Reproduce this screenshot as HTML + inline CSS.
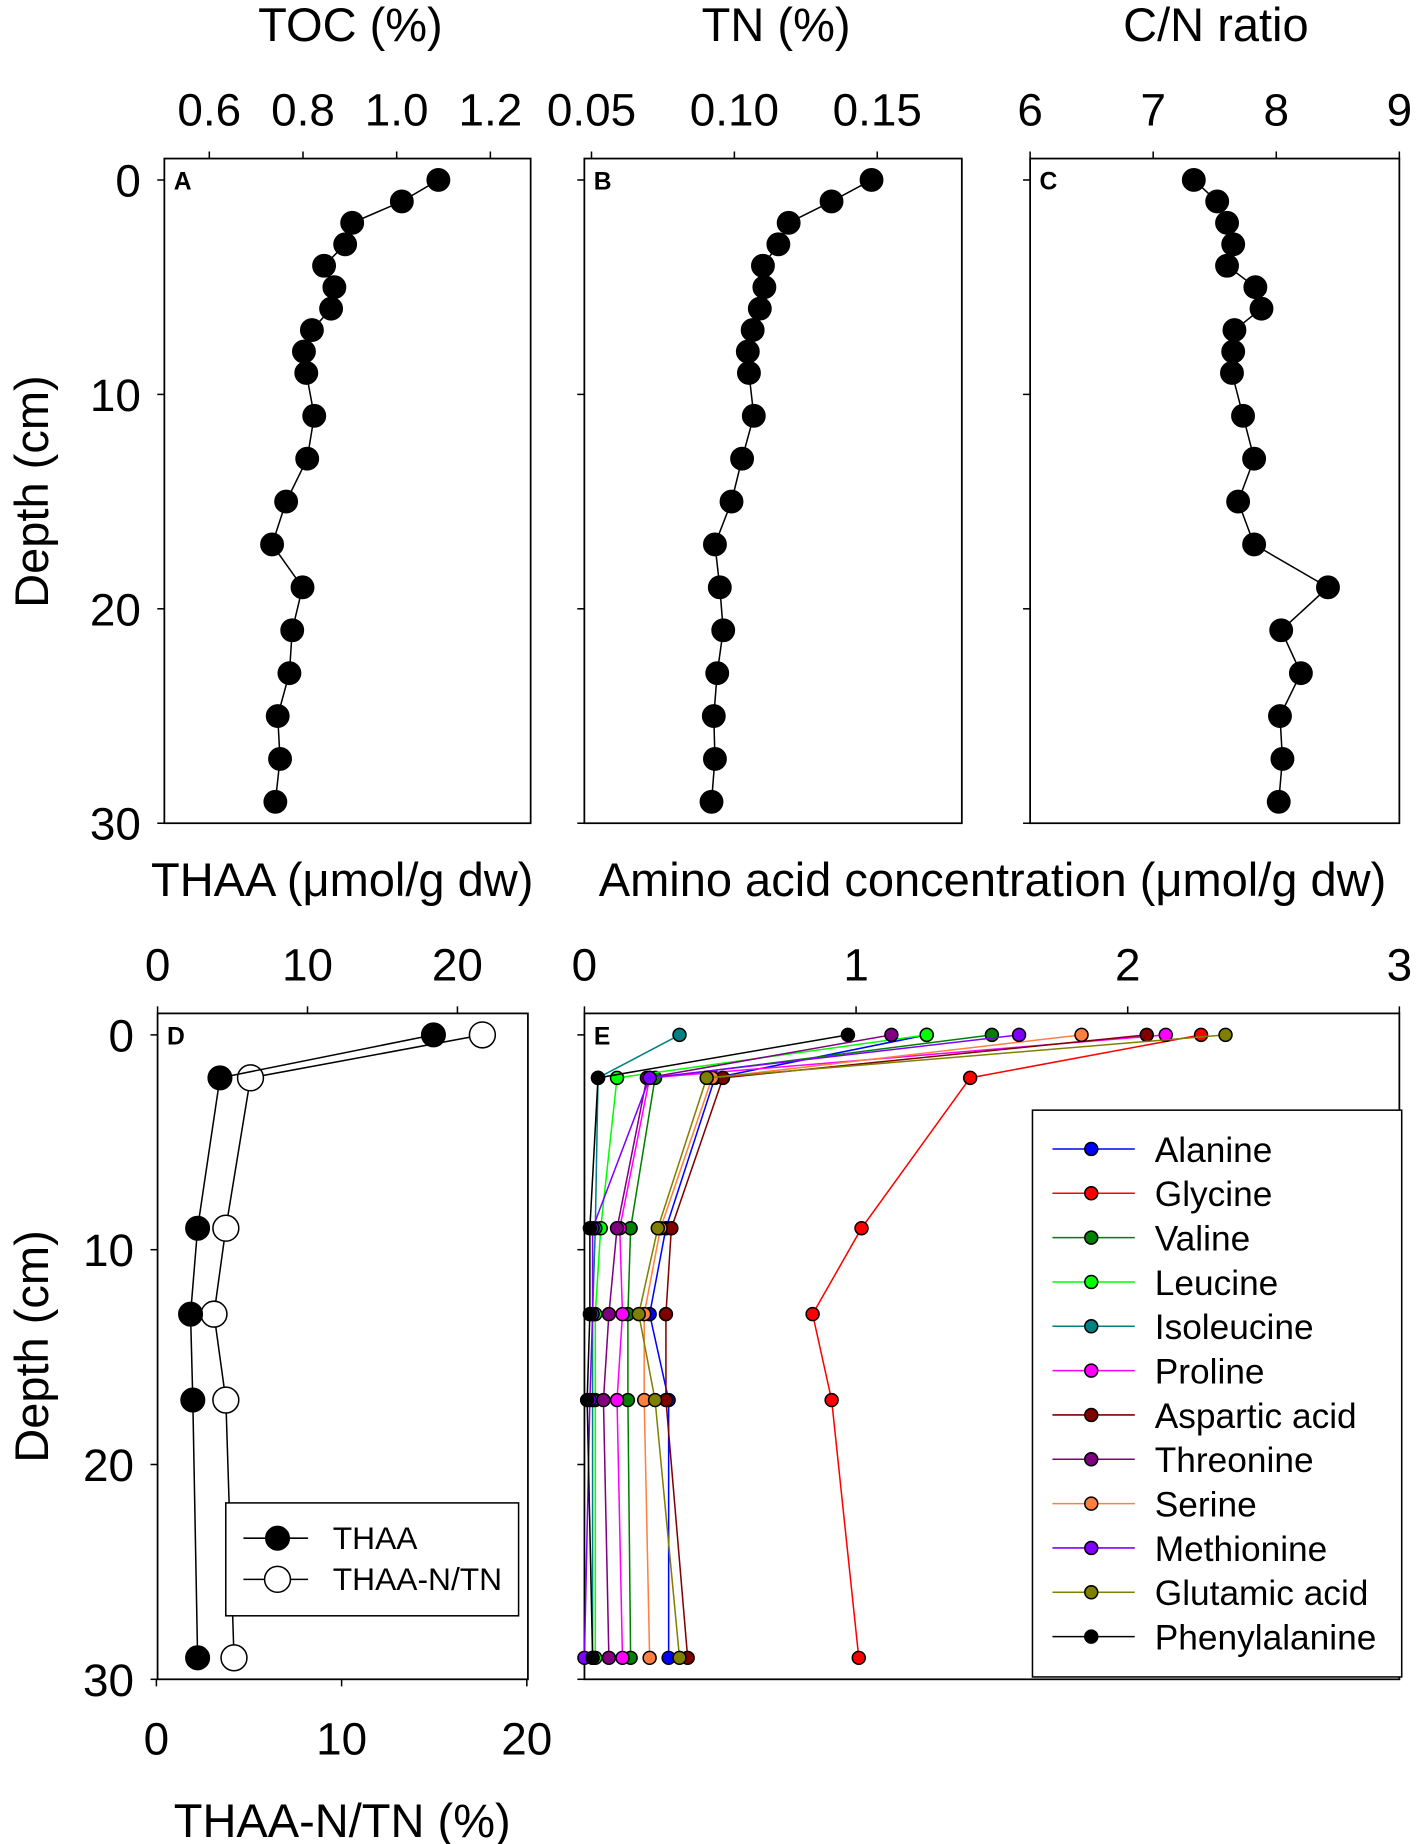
<!DOCTYPE html>
<html><head><meta charset="utf-8"><style>
html,body{margin:0;padding:0;background:#fff}
svg{display:block;font-family:"Liberation Sans",Arial,sans-serif}
</style></head><body>
<svg id="fig" width="1417" height="1844" viewBox="0 0 1205 1568" xmlns="http://www.w3.org/2000/svg"></svg>
<script>
// ---- data ----
const depthsTop = [0,1,2,3,4,5,6,7,8,9,11,13,15,17,19,21,23,25,27,29];
const tocValues = [1.089,1.011,0.905,0.890,0.845,0.867,0.860,0.819,0.802,0.807,0.824,0.809,0.764,0.734,0.799,0.777,0.771,0.746,0.751,0.741];
const tnValues = [0.148,0.134,0.119,0.1154,0.110,0.1105,0.1089,0.1064,0.1047,0.1051,0.1068,0.1027,0.099,0.0932,0.0949,0.0961,0.0940,0.0928,0.0932,0.092];
const cnValues = [7.33,7.52,7.60,7.65,7.60,7.83,7.88,7.66,7.65,7.64,7.73,7.82,7.69,7.82,8.42,8.04,8.20,8.03,8.05,8.02];
const tocTicks = [0.6,0.8,1.0,1.2];
const tnTicks = [0.05,0.10,0.15];
const cnTicks = [6,7,8,9];
const depthTicks = [0,10,20,30];
const depthsBottom = [0,2,9,13,17,29];
const thaaValues = [18.4,4.16,2.67,2.2,2.35,2.67];
const thaaNValues = [17.6,5.08,3.75,3.11,3.75,4.19];
const thaaTicks = [0,10,20];
const thaaNTicks = [0,10,20];
const aaTicks = [0,1,2,3];
const aaNames = ["Alanine","Glycine","Valine","Leucine","Isoleucine","Proline","Aspartic acid","Threonine","Serine","Methionine","Glutamic acid","Phenylalanine"];
const aaColors = ["#0000ff","#ff0000","#008000","#00ff00","#008080","#ff00ff","#800000","#800080","#ff8040","#8000ff","#808000","#000000"];
const alanine = [1.26,0.48,0.30,0.24,0.31,0.31];
const glycine = [2.27,1.42,1.02,0.84,0.91,1.01];
const valine = [1.50,0.26,0.17,0.16,0.16,0.17];
const leucine = [1.26,0.12,0.06,0.04,0.04,0.04];
const isoleucine = [0.35,0.05,0.04,0.03,0.03,0.03];
const proline = [2.14,0.24,0.13,0.14,0.12,0.14];
const asparticAcid = [2.07,0.51,0.32,0.30,0.30,0.38];
const threonine = [1.13,0.23,0.12,0.09,0.07,0.09];
const serine = [1.83,0.47,0.28,0.22,0.22,0.24];
const methionine = [1.60,0.24,0.03,0.03,0.02,0.0];
const glutamicAcid = [2.36,0.45,0.27,0.20,0.26,0.35];
const phenylalanine = [0.97,0.05,0.02,0.02,0.01,0.03];
const aaSeries = [alanine,glycine,valine,leucine,isoleucine,proline,asparticAcid,threonine,serine,methionine,glutamicAcid,phenylalanine];

const NS="http://www.w3.org/2000/svg";
const svg=document.getElementById('fig');
function mk(tag,attrs,parent){const e=document.createElementNS(NS,tag);for(const k in attrs)e.setAttribute(k,attrs[k]);(parent||svg).appendChild(e);return e;}
function txt(s,x,y,size,anchor,parent,extra){const t=mk('text',Object.assign({x:x,y:y,'font-size':size,'text-anchor':anchor||'middle',fill:'#000'},extra||{}),parent);t.textContent=s;return t;}
function lin(a,b,c,d){return v=>c+(v-a)*(d-c)/(b-a);}

function panel(o){
  const g=mk('g',{});
  
  
  const X=lin(o.x0v,o.x1v,o.x0p,o.x1p);
  const Y=lin(0,30,o.y0,o.y30);
  const top=Y(-1), bot=Y(30);
  const L=X(o.xmin), R=X(o.xmax);
  const box=mk('rect',{x:L,y:top,width:R-L,height:bot-top,fill:'none',stroke:'#000','stroke-width':1.5},g);
  
  
  depthTicks.forEach(d=>{mk('line',{x1:L-6,x2:L,y1:Y(d),y2:Y(d),stroke:'#000','stroke-width':1.3},g);
    if(o.depthLabels){const t=txt(String(d),L-20,Y(d)+14,39,'end',g);
      
      }});
  o.topTicks.forEach(v=>{mk('line',{x1:X(v),x2:X(v),y1:top,y2:top-6,stroke:'#000','stroke-width':1.3},g);
    const t=txt(o.fmt(v),X(v),top-28,39,'middle',g);
    
    });
  const lt=txt(o.letter,L+8,Y(0)+8,21,'start',g,{'font-weight':'bold'});
  
  
  return {g,X,Y,top,bot,L,R};
}
function series(p,X,Y,depths,vals,r,fill,stroke,sw,name){
  const g=mk('g',{},p.g);
  
  
  mk('polyline',{points:depths.map((d,i)=>X(vals[i])+','+Y(d)).join(' '),fill:'none',stroke:stroke,'stroke-width':sw},g);
  depths.forEach((d,i)=>{const c=mk('circle',{cx:X(vals[i]),cy:Y(d),r:r,fill:fill,stroke:'#000','stroke-width':1.3},g);
    
    });
}

const pA=panel({name:'panel-a-toc',x0v:0.6,x1v:1.2,x0p:178,x1p:417,xmin:0.504,xmax:1.286,y0:153,y30:700,topTicks:tocTicks,fmt:v=>v.toFixed(1),letter:'A',depthLabels:true});
series(pA,pA.X,pA.Y,depthsTop,tocValues,9.5,'#000','#000',1.3,'toc-series');
const pB=panel({name:'panel-b-tn',x0v:0.05,x1v:0.15,x0p:503,x1p:746,xmin:0.0475,xmax:0.1796,y0:153,y30:700,topTicks:tnTicks,fmt:v=>v.toFixed(2),letter:'B'});
series(pB,pB.X,pB.Y,depthsTop,tnValues,9.5,'#000','#000',1.3,'tn-series');
const pC=panel({name:'panel-c-cn',x0v:6,x1v:9,x0p:876,x1p:1190,xmin:6,xmax:9,y0:153,y30:700,topTicks:cnTicks,fmt:v=>String(v),letter:'C'});
series(pC,pC.X,pC.Y,depthsTop,cnValues,9.5,'#000','#000',1.3,'cn-series');

[['TOC (%)',298,'toc-axis-title'],['TN (%)',660,'tn-axis-title'],['C/N ratio',1034,'cn-axis-title']].forEach(a=>{
  const t=txt(a[0],a[1],35,40,'middle');
  
  });

const pD=panel({name:'panel-d-thaa',x0v:0,x1v:20,x0p:134,x1p:389,xmin:0,xmax:24.7,y0:880,y30:1428,topTicks:thaaTicks,fmt:v=>String(v),letter:'D',depthLabels:true});
const XN=lin(0,20,133,448);
thaaNTicks.forEach(v=>{mk('line',{x1:XN(v),x2:XN(v),y1:pD.bot,y2:pD.bot+6,stroke:'#000','stroke-width':1.3},pD.g);
  const t=txt(String(v),XN(v),pD.bot+64,39,'middle',pD.g);
  
  });
series(pD,XN,pD.Y,depthsBottom,thaaNValues,11,'#fff','#000',1.3,'thaa-n-tn-series');
series(pD,pD.X,pD.Y,depthsBottom,thaaValues,10,'#000','#000',1.3,'thaa-series');
const lgD=mk('g',{},pD.g);


mk('rect',{x:192,y:1278,width:249,height:96,fill:'#fff',stroke:'#000','stroke-width':1.3},lgD);
[['THAA','#000',10,1308],['THAA-N/TN','#fff',11,1343]].forEach(e=>{
  mk('line',{x1:207,x2:262,y1:e[3],y2:e[3],stroke:'#000','stroke-width':1.3},lgD);
  mk('circle',{cx:236,cy:e[3],r:e[2],fill:e[1],stroke:'#000','stroke-width':1.3},lgD);
  const t=txt(e[0],283,e[3]+9,27,'start',lgD);
  
  });

const pE=panel({name:'panel-e-amino-acids',x0v:0,x1v:3,x0p:497,x1p:1190,xmin:0,xmax:3,y0:880,y30:1428,topTicks:aaTicks,fmt:v=>String(v),letter:'E'});
aaSeries.forEach((s,i)=>series(pE,pE.X,pE.Y,depthsBottom,s,5.5,aaColors[i],aaColors[i],1.3,'series-'+aaNames[i].toLowerCase().replace(' ','-')));
const lgE=mk('g',{},pE.g);


mk('rect',{x:878,y:944,width:314,height:482,fill:'#fff',stroke:'#000','stroke-width':1.3},lgE);
aaNames.forEach((n,i)=>{const y=977+i*37.7;
  mk('line',{x1:895,x2:965,y1:y,y2:y,stroke:aaColors[i],'stroke-width':1.3},lgE);
  mk('circle',{cx:928,cy:y,r:5.5,fill:aaColors[i],stroke:'#000','stroke-width':1.3},lgE);
  const t=txt(n,982,y+11,30,'start',lgE);
  
  });

[['THAA (\u03bcmol/g dw)',291,762,'thaa-axis-title'],['Amino acid concentration (\u03bcmol/g dw)',844,762,'aa-axis-title'],['THAA-N/TN (%)',291,1562,'thaa-n-tn-axis-title']].forEach(a=>{
  const t=txt(a[0],a[1],a[2],40,'middle');
  
  });
[[418,'depth-axis-title-top'],[1145,'depth-axis-title-bottom']].forEach(a=>{
  const t=txt('Depth (cm)',0,0,40,'middle',svg,{transform:'translate(41,'+a[0]+') rotate(-90)'});
  
  });
</script>
</body></html>
